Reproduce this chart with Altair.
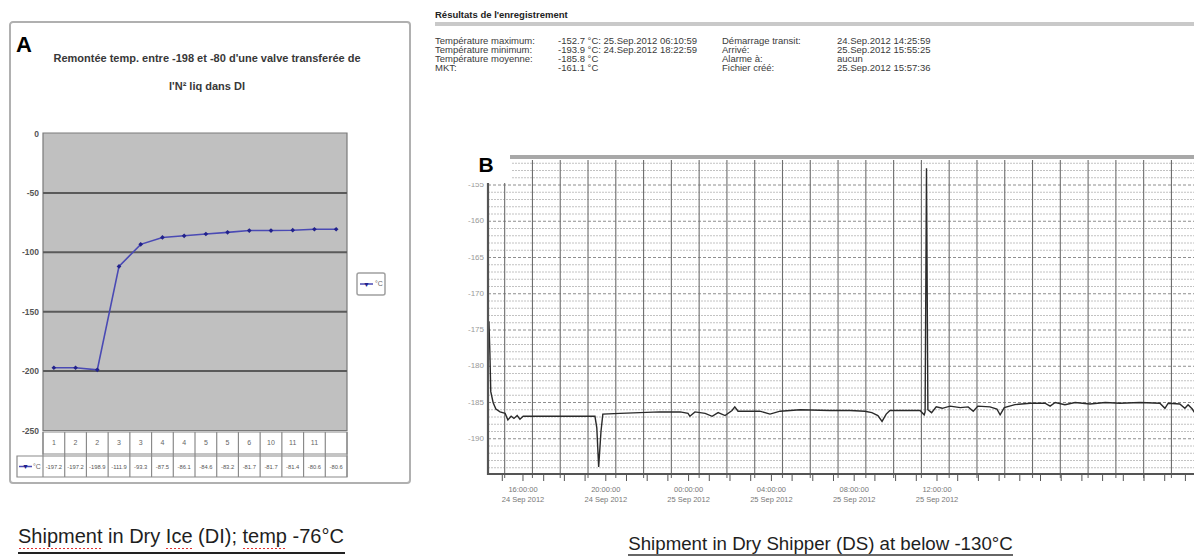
import altair as alt
import pandas as pd

# ---------------- Panel A (dry ice) ----------------
a_title_1 = "Remontée temp. entre -198 et -80 d'une valve transferée de"
a_title_2 = "l'N² liq dans DI"
a_categories = ["1", "2", "2", "3", "3", "4", "4", "5", "5", "6", "10", "11", "11", ""]
a_values = [-197.2, -197.2, -198.9, -111.9, -93.3, -87.5, -86.1, -84.6, -83.2, -81.7, -81.7, -81.4, -80.6, -80.6]
a_series = "°C"
a_yticks = [0, -50, -100, -150, -200, -250]
a_caption = "Shipment in Dry Ice (DI); temp -76°C"

# ---------------- Panel B (dry shipper) ----------------
b_header = "Résultats de l'enregistrement"
b_info_col1 = ["Température maximum:", "Température minimum:", "Température moyenne:", "MKT:"]
b_info_col2 = ["-152.7 °C: 25.Sep.2012 06:10:59", "-193.9 °C: 24.Sep.2012 18:22:59", "-185.8 °C", "-161.1 °C"]
b_info_col3 = ["Démarrage transit:", "Arrivé:", "Alarme à:", "Fichier créé:"]
b_info_col4 = ["24.Sep.2012 14:25:59", "25.Sep.2012 15:55:25", "aucun", "25.Sep.2012 15:57:36"]

b_times = [
    "2012-09-24 14:26", "2012-09-24 14:28", "2012-09-24 14:30", "2012-09-24 14:35", "2012-09-24 14:41", "2012-09-24 14:50",
    "2012-09-24 15:01", "2012-09-24 15:07", "2012-09-24 15:14", "2012-09-24 15:20", "2012-09-24 15:27", "2012-09-24 15:33",
    "2012-09-24 15:40", "2012-09-24 15:55", "2012-09-24 17:00", "2012-09-24 18:15", "2012-09-24 18:19", "2012-09-24 18:23",
    "2012-09-24 18:28", "2012-09-24 18:32", "2012-09-24 19:09", "2012-09-24 19:52", "2012-09-24 20:35", "2012-09-24 21:19",
    "2012-09-24 21:36", "2012-09-24 21:40", "2012-09-24 21:51", "2012-09-24 22:13", "2012-09-24 22:28", "2012-09-24 22:41",
    "2012-09-24 22:56", "2012-09-24 23:11", "2012-09-24 23:17", "2012-09-24 23:24", "2012-09-25 00:11", "2012-09-25 00:33",
    "2012-09-25 00:55", "2012-09-25 01:38", "2012-09-25 02:43", "2012-09-25 03:26", "2012-09-25 03:58", "2012-09-25 04:13",
    "2012-09-25 04:26", "2012-09-25 04:35", "2012-09-25 04:44", "2012-09-25 04:52", "2012-09-25 05:35", "2012-09-25 05:57",
    "2012-09-25 06:06", "2012-09-25 06:08", "2012-09-25 06:11", "2012-09-25 06:14", "2012-09-25 06:22", "2012-09-25 06:32",
    "2012-09-25 06:45", "2012-09-25 07:02", "2012-09-25 07:24", "2012-09-25 07:41", "2012-09-25 07:52", "2012-09-25 08:02",
    "2012-09-25 08:28", "2012-09-25 08:43", "2012-09-25 08:50", "2012-09-25 08:59", "2012-09-25 09:22", "2012-09-25 09:55",
    "2012-09-25 10:27", "2012-09-25 10:38", "2012-09-25 10:49", "2012-09-25 11:10", "2012-09-25 11:32", "2012-09-25 12:04",
    "2012-09-25 12:37", "2012-09-25 13:09", "2012-09-25 13:52", "2012-09-25 14:35", "2012-09-25 14:46", "2012-09-25 14:53",
    "2012-09-25 15:18", "2012-09-25 15:29", "2012-09-25 15:36", "2012-09-25 15:45", "2012-09-25 15:51", "2012-09-25 15:55",
]
b_temps = [
    -173.8, -178.0, -183.5, -185.0, -185.9, -186.3,
    -186.5, -187.4, -186.9, -187.2, -186.8, -187.3,
    -186.9, -186.9, -186.9, -186.9, -188.5, -193.9,
    -189.0, -186.6, -186.5, -186.4, -186.3, -186.3,
    -186.5, -186.9, -186.3, -186.5, -186.9, -186.4,
    -186.8, -186.1, -185.6, -186.2, -186.2, -186.6,
    -186.2, -186.0, -186.1, -186.1, -186.2, -186.4,
    -186.8, -187.6, -186.6, -186.1, -186.1, -186.1,
    -186.7, -186.3, -152.7, -186.0, -186.4, -185.6,
    -185.8, -185.5, -185.7, -185.6, -186.2, -185.5,
    -185.6, -185.9, -186.7, -185.7, -185.3, -185.1,
    -185.1, -185.5, -185.0, -185.3, -185.0, -185.2,
    -185.0, -185.1, -185.0, -185.1, -185.8, -185.1,
    -185.2, -185.8, -185.3, -185.9, -186.5, -186.8,
]
b_yticks = [-155, -160, -165, -170, -175, -180, -185, -190]
b_xtick_at = ["2012-09-24 16:00", "2012-09-24 20:00", "2012-09-25 00:00",
              "2012-09-25 04:00", "2012-09-25 08:00", "2012-09-25 12:00"]
b_xtick_time = ["16:00:00", "20:00:00", "00:00:00", "04:00:00", "08:00:00", "12:00:00"]
b_xtick_date = ["24 Sep 2012", "24 Sep 2012", "25 Sep 2012", "25 Sep 2012", "25 Sep 2012", "25 Sep 2012"]
b_caption = "Shipment in Dry Shipper (DS) at below -130°C"

# ---------------- helpers ----------------
SANS = "Liberation Sans, Arial, sans-serif"
ORIGIN = pd.Timestamp("2012-09-24 00:00")


def hours(ts):
    return [(pd.Timestamp(t) - ORIGIN) / pd.Timedelta(hours=1) for t in ts]


def P(v):  # page pixel -> chart pixel (8px page margin)
    return v - 8


dummy = pd.DataFrame({"d": [0]})


def txt(s, x, y, size=10, weight="normal", color="#333", align="left", font=SANS, baseline="middle"):
    return alt.Chart(dummy).mark_text(
        text=s, fontSize=size, fontWeight=weight, color=color, align=align,
        baseline=baseline, font=font
    ).encode(x=alt.value(P(x)), y=alt.value(P(y)))


def rule(x1, y1, x2, y2, color="#333", width=1.0, dash=None):
    kw = dict(color=color, strokeWidth=width)
    if dash:
        kw["strokeDash"] = dash
    return alt.Chart(dummy).mark_rule(**kw).encode(
        x=alt.value(P(x1)), y=alt.value(P(y1)), x2=alt.value(P(x2)), y2=alt.value(P(y2)))


def box(x1, y1, x2, y2, fill="white", stroke=None, width=1.0, radius=0):
    kw = dict(fill=fill, cornerRadius=radius)
    if stroke:
        kw["stroke"] = stroke
        kw["strokeWidth"] = width
    return alt.Chart(dummy).mark_rect(**kw).encode(
        x=alt.value(P(x1)), y=alt.value(P(y1)), x2=alt.value(P(x2)), y2=alt.value(P(y2)))


# ---------------- panel A layers ----------------
sxA = alt.Scale(domain=[-0.5, 13.5], range=[P(43), P(347)], nice=False, zero=False)
syA = alt.Scale(domain=[-250, 0], range=[P(430.5), P(133.5)], nice=False, zero=False)

dfA = pd.DataFrame({
    "i": list(range(len(a_values))),
    "cat": a_categories,
    "temp": a_values,
    "lab": [f"{v:.1f}" for v in a_values],
})
dfAgrid = pd.DataFrame({"v": [t for t in a_yticks if t not in (0, -250)]})
dfAticks = pd.DataFrame({"v": a_yticks, "lab": [str(t) for t in a_yticks]})
dfAsep = pd.DataFrame({"s": [k - 0.5 for k in range(len(a_values) + 1)]})

gridA = alt.Chart(dfAgrid).mark_rule(color="#5a5a5a", strokeWidth=2).encode(
    y=alt.Y("v:Q", scale=syA, axis=None), x=alt.value(P(43)), x2=alt.value(P(347)))
ylabA = alt.Chart(dfAticks).mark_text(align="right", fontSize=8.5, color="#555", font=SANS, fontWeight="bold").encode(
    y=alt.Y("v:Q", scale=syA, axis=None), x=alt.value(P(39)), text="lab:N")
lineA = alt.Chart(dfA).mark_line(color="#4a4ab4", strokeWidth=1.6).encode(
    x=alt.X("i:Q", scale=sxA, axis=None), y=alt.Y("temp:Q", scale=syA, axis=None))
ptsA = alt.Chart(dfA).mark_point(shape="diamond", filled=True, size=22, color="#22228c", opacity=1).encode(
    x=alt.X("i:Q", scale=sxA, axis=None), y=alt.Y("temp:Q", scale=syA, axis=None))
sepA = alt.Chart(dfAsep).mark_rule(color="#8a8a8a", strokeWidth=1.2).encode(
    x=alt.X("s:Q", scale=sxA, axis=None), y=alt.value(P(432)), y2=alt.value(P(477)))
catA = alt.Chart(dfA).mark_text(fontSize=7, color="#666", font=SANS).encode(
    x=alt.X("i:Q", scale=sxA, axis=None), y=alt.value(P(443)), text="cat:N")
valA = alt.Chart(dfA).mark_text(fontSize=5.8, color="#555", font=SANS).encode(
    x=alt.X("i:Q", scale=sxA, axis=None), y=alt.value(P(466.5)), text="lab:N")

layerA = alt.layer(gridA, lineA, ptsA, ylabA, sepA, catA, valA)

# ---------------- panel B layers ----------------
sxB = alt.Scale(domain=[14.40, 39.92], range=[P(488), P(1197)], nice=False, zero=False)
syB = alt.Scale(domain=[-195, -150], range=[P(475), P(148.75)], nice=False, zero=False)
sxAx = alt.Scale(domain=[14.31, 48.56], range=[P(488), P(1197)], nice=False, zero=False)

dfB = pd.DataFrame({"h": hours(b_times), "temp": b_temps})
minor_levels = [v for v in range(-194, -151) if v % 5 != 0]
major_levels = [v for v in range(-194, -151) if v % 5 == 0]
dfBminor = pd.DataFrame({"v": minor_levels})
dfBmajor = pd.DataFrame({"v": major_levels})
dfBvgrid = pd.DataFrame({"h": list(range(15, 40))})
dfBticks = pd.DataFrame({"v": b_yticks, "lab": [str(t) for t in b_yticks]})

minorB = alt.Chart(dfBminor).mark_rule(color="#c2c2c2", strokeWidth=1, strokeDash=[2, 1]).encode(
    y=alt.Y("v:Q", scale=syB, axis=None), x=alt.value(P(488)), x2=alt.value(P(1197)))
majorB = alt.Chart(dfBmajor).mark_rule(color="#8e8e8e", strokeWidth=1, strokeDash=[3, 2]).encode(
    y=alt.Y("v:Q", scale=syB, axis=None), x=alt.value(P(488)), x2=alt.value(P(1197)))
vgridB = alt.Chart(dfBvgrid).mark_rule(color="#6e6e6e", strokeWidth=1.1).encode(
    x=alt.X("h:Q", scale=sxB, axis=None), y=alt.value(P(160)), y2=alt.value(P(478)))
lineB = alt.Chart(dfB).mark_line(color="#2a2a2a", strokeWidth=1.4).encode(
    x=alt.X("h:Q", scale=sxB, axis=None), y=alt.Y("temp:Q", scale=syB, axis=None))
ylabB = alt.Chart(dfBticks).mark_text(align="right", fontSize=8, color="#999", font=SANS).encode(
    y=alt.Y("v:Q", scale=syB, axis=None), x=alt.value(P(484)), text="lab:N")

layerB = alt.layer(minorB, majorB, vgridB, ylabB)

dfAxT = pd.DataFrame({"h": list(range(15, 49))})
dfAxL = pd.DataFrame({"h": hours(b_xtick_at), "t": b_xtick_time, "d": b_xtick_date})
ticksAx = alt.Chart(dfAxT).mark_rule(color="#555", strokeWidth=1).encode(
    x=alt.X("h:Q", scale=sxAx, axis=None), y=alt.value(P(474)), y2=alt.value(P(481)))
labTAx = alt.Chart(dfAxL).mark_text(fontSize=7.5, color="#777", font=SANS).encode(
    x=alt.X("h:Q", scale=sxAx, axis=None), y=alt.value(P(490)), text="t:N")
labDAx = alt.Chart(dfAxL).mark_text(fontSize=7.5, color="#777", font=SANS).encode(
    x=alt.X("h:Q", scale=sxAx, axis=None), y=alt.value(P(500)), text="d:N")
layerAx = alt.layer(ticksAx, labTAx, labDAx)

# ---------------- background decorations ----------------
bg = [
    box(10, 22, 410, 483, fill="white", stroke="#b0b0b0", width=2, radius=3),
    box(43, 133, 347, 430.5, fill="#c0c0c0", stroke="#7a7a7a", width=1.2),
    box(43, 432, 347, 454, fill="white", stroke="#8a8a8a", width=1.2),
    box(17, 456, 347, 477, fill="white", stroke="#8a8a8a", width=1.2),
    box(357, 273, 385, 295, fill="white", stroke="#a0a0a0", width=1.5, radius=2),
]

fg = []
# panel A texts
fg += [
    txt("A", 24, 45, size=22, weight="bold", color="#000", align="center"),
    txt(a_title_1, 207, 59, size=11, weight="bold", color="#383838", align="center"),
    txt(a_title_2, 207, 87, size=11, weight="bold", color="#383838", align="center"),
    rule(360, 284, 373, 284, color="#4a4ab4", width=1.5),
    txt("▼", 366.5, 284.5, size=7, color="#22228c", align="center"),
    txt(a_series, 375, 284, size=7, color="#666"),
    rule(19, 466.5, 32, 466.5, color="#4a4ab4", width=1.5),
    txt("▼", 25.5, 467, size=7, color="#22228c", align="center"),
    txt(a_series, 33, 466.5, size=7, color="#666"),
    txt(a_caption, 18, 543, size=20, color="#1e1e1e", baseline="alphabetic"),
    rule(18, 553, 345, 553, color="#222", width=2),
    rule(19, 548.5, 103, 548.5, color="#e03030", width=1.2, dash=[2, 2]),
    rule(166, 548.5, 192, 548.5, color="#e03030", width=1.2, dash=[2, 2]),
    rule(243, 548.5, 287, 548.5, color="#e03030", width=1.2, dash=[2, 2]),
]
# panel B header table
fg += [
    txt(b_header, 435, 15, size=9.5, weight="bold", color="#222"),
    box(435, 22, 1202, 26, fill="#c9c9c9"),
]
rows_y = [41, 50, 59, 68]
for col, x in ((b_info_col1, 435), (b_info_col2, 558), (b_info_col3, 722), (b_info_col4, 837)):
    for s, y in zip(col, rows_y):
        fg.append(txt(s, x, y, size=9.5, color="#3a3a3a"))

fg_b = [
    rule(488, 474, 1197, 474, color="#555", width=2),
    rule(1197, 157, 1197, 474, color="#888", width=1.2),
    box(470, 147, 511, 183, fill="white"),
    rule(488, 183, 488, 475, color="#555", width=2.2),
    box(510, 155, 1200, 159, fill="#a8a8a8"),
    txt("B", 486, 166, size=21, weight="bold", color="#000", align="center"),
    txt(b_caption, 820.5, 550, size=18.7, color="#1e1e1e", align="center", baseline="alphabetic"),
    rule(628, 555, 1013, 555, color="#333", width=1.5),
]

chart = alt.layer(
    *bg, layerA, layerB, lineB, layerAx, *fg, *fg_b
).resolve_scale(x="independent", y="independent").properties(
    width=1186, height=548,
    autosize=alt.AutoSizeParams(type="none"),
    padding=0,
).configure_view(stroke=None)

chart.save("out.html", embed_options={"renderer": "svg", "actions": False})
